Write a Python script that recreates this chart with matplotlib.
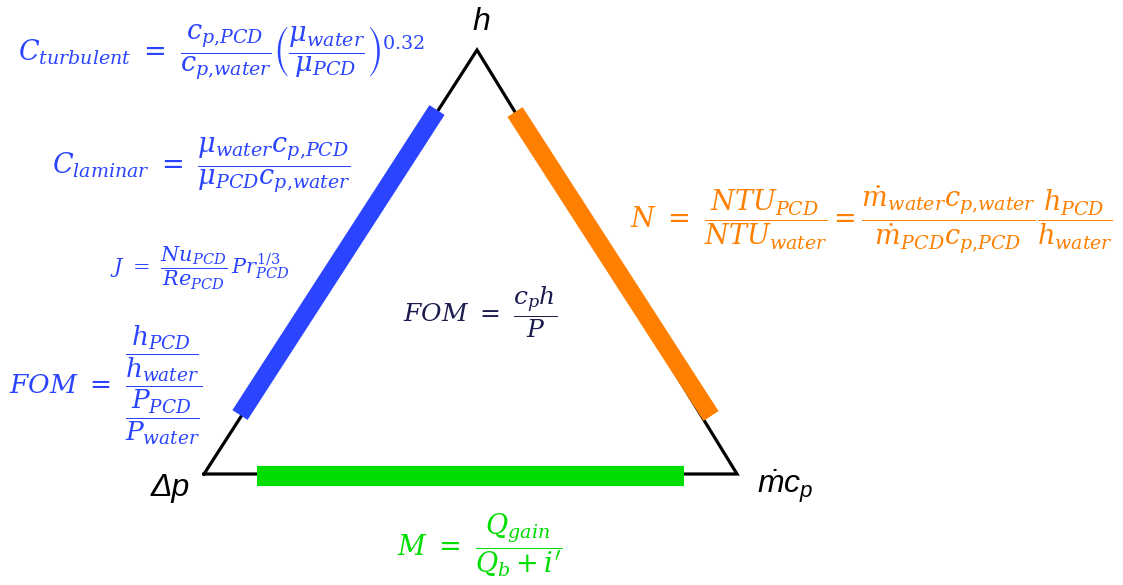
import matplotlib
matplotlib.use('Agg')
import matplotlib.pyplot as plt

plt.rcParams['mathtext.fontset'] = 'dejavuserif'
plt.rcParams['mathtext.rm'] = 'Liberation Sans'
plt.rcParams['mathtext.it'] = 'Liberation Sans:italic'

## triangle corners (pixel coords, y down)
tri_x = [204, 477, 737, 204]
tri_y = [474, 50, 474, 474]

## coloured bars on each side
blue_bar = ([240, 437], [415, 110])
orange_bar = ([515, 711], [112, 416])
green_bar = ([257, 684], [476, 476])

blue = '#2a44ff'
orange = '#ff7f00'
green = '#00dd00'
navy = '#1c1c4e'

fig = plt.figure(figsize=(11.23, 5.85), dpi=100)
ax = fig.add_axes([0, 0, 1, 1])
ax.set_xlim(0, 1123)
ax.set_ylim(585, 0)
ax.axis('off')

ax.plot(tri_x, tri_y, color='black', lw=2.3, solid_joinstyle='miter')
ax.plot(*blue_bar, color=blue, lw=13, solid_capstyle='butt')
ax.plot(*orange_bar, color=orange, lw=13, solid_capstyle='butt')
ax.plot(*green_bar, color=green, lw=14.5, solid_capstyle='butt')

# corner labels
ax.text(481, 22, r'$h$', math_fontfamily='custom', fontsize=23, ha='center', va='center')
ax.text(170, 488, 'Δp', family='Liberation Sans', style='italic', fontsize=23, ha='center', va='center')
ax.text(785, 486, r'$\dot{m}c_p$', math_fontfamily='custom', fontsize=23, ha='center', va='center')

# formulas
fs = 19.5
ax.text(222, 52, r'$C_{turbulent}\ =\ \dfrac{c_{p{,}PCD}}{c_{p{,}water}}\left(\dfrac{\mu_{water}}{\mu_{PCD}}\right)^{0.32}$',
        color=blue, fontsize=fs, ha='center', va='center')
ax.text(201, 165, r'$C_{laminar}\ =\ \dfrac{\mu_{water}c_{p{,}PCD}}{\mu_{PCD}c_{p{,}water}}$',
        color=blue, fontsize=fs, ha='center', va='center')
ax.text(200, 268, r'$J\ =\ \dfrac{Nu_{PCD}}{Re_{PCD}}\,Pr_{PCD}^{1/3}$',
        color=blue, fontsize=15, ha='center', va='center')
ax.text(106, 385, r'$FOM\ =\ \dfrac{\dfrac{h_{PCD}}{h_{water}}}{\dfrac{P_{PCD}}{P_{water}}}$',
        color=blue, fontsize=19, ha='center', va='center')
ax.text(480, 312, r'$FOM\ =\ \dfrac{c_p h}{P}$',
        color=navy, fontsize=18, ha='center', va='center')
ax.text(872, 220, r'$N\ =\ \dfrac{NTU_{PCD}}{NTU_{water}}=\dfrac{\dot{m}_{water}c_{p{,}water}}{\dot{m}_{PCD}c_{p{,}PCD}}\dfrac{h_{PCD}}{h_{water}}$',
        color=orange, fontsize=fs, ha='center', va='center')
ax.text(480, 545, r'$M\ =\ \dfrac{Q_{gain}}{Q_b+i^{\prime}}$',
        color=green, fontsize=fs, ha='center', va='center')

fig.savefig('out.png', dpi=100, facecolor='white')
